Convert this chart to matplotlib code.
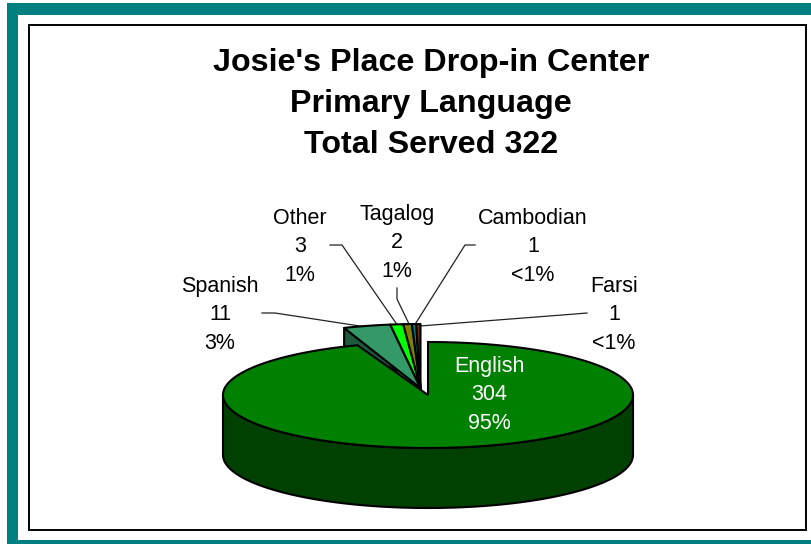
import numpy as np
import matplotlib
matplotlib.use("Agg")
import matplotlib.pyplot as plt
from matplotlib.patches import Polygon, Rectangle

plt.rcParams['font.family'] = ['Liberation Sans', 'DejaVu Sans']

title_lines = ["Josie's Place Drop-in Center", "Primary Language", "Total Served 322"]
categories = ["English", "Spanish", "Other", "Tagalog", "Cambodian", "Farsi"]
counts = [304, 11, 3, 2, 1, 1]
pct_labels = ["95%", "3%", "1%", "1%", "<1%", "<1%"]
top_colors = ["#008000", "#339966", "#00FF00", "#808000", "#008080", "#663300"]
wall_colors = ["#004000", "#1F5C3D", "#009900", "#4D4D00", "#004D4D", "#3D1F00"]
label_pos = [(489, 395), (220, 315), (300, 247), (397, 243), (533, 247), (614, 315)]
label_colors = ["white", "black", "black", "black", "black", "black"]
leader_start = [None, (262, 313), (330, 245), (397, 288), (475, 245), (587, 313)]
leader_elbow = [None, (275, 313), (342, 245), (397, 299), (465, 245), (575, 314)]
leader_end = [None, (366, 327), (398, 326), (410, 326), (414, 326), (420, 326)]

W, H = 811, 544
fig = plt.figure(figsize=(W / 100, H / 100), dpi=100)
ax = fig.add_axes([0, 0, 1, 1])
ax.set_xlim(0, W)
ax.set_ylim(H, 0)
ax.axis("off")

# page frame
TEAL = "#008080"
ax.add_patch(Rectangle((7, 3), W - 7, 12, fc=TEAL, ec="none"))
ax.add_patch(Rectangle((7, 3), 11, H - 3, fc=TEAL, ec="none"))
ax.add_patch(Rectangle((7, 540), W - 7, 4, fc=TEAL, ec="none"))
ax.add_patch(Rectangle((29, 25), 777, 505, fc="white", ec="black", lw=1.4))

# pie geometry
cx, cy, a, b, depth = 428, 395, 205, 53, 60
ex_cx, ex_cy, ex_a, ex_b, ex_depth = 420.5, 388, 222, 64, 40

angles = 360 * np.array(counts) / sum(counts)
ends = 90 - np.cumsum(angles)
starts = ends + angles


def rim(t0, t1, x0, y0, ra, rb, n=200):
    t = np.radians(np.linspace(t0, t1, n))
    return np.column_stack([x0 + ra * np.cos(t), y0 - rb * np.sin(t)])


# detached small slices
for i in range(1, len(counts)):
    arc = rim(starts[i], ends[i], ex_cx, ex_cy, ex_a, ex_b, 20)
    apex = np.array([[ex_cx, ex_cy]])
    face = np.vstack([apex, arc[:1], arc[:1] + [0, ex_depth], apex + [0, 12]])
    ax.add_patch(Polygon(face, closed=True, fc=wall_colors[i], ec="black", lw=1.5, joinstyle="round", zorder=3))
for i in range(1, len(counts)):
    arc = rim(starts[i], ends[i], ex_cx, ex_cy, ex_a, ex_b, 20)
    top = np.vstack([[ex_cx, ex_cy], arc])
    ax.add_patch(Polygon(top, closed=True, fc=top_colors[i], ec="black", lw=1.5, joinstyle="round", zorder=4))

# main slice: wall then top
front = rim(180, 360, cx, cy, a, b)
wall = np.vstack([front, front[::-1] + [0, depth]])
ax.add_patch(Polygon(wall, closed=True, fc=wall_colors[0], ec="black", lw=1.5, zorder=5))
arc = rim(90, ends[0], cx, cy, a, b, 500)
top = np.vstack([[cx, cy], arc])
ax.add_patch(Polygon(top, closed=True, fc=top_colors[0], ec="black", lw=1.5, joinstyle="miter", zorder=6))

# leader lines
for i in range(1, len(counts)):
    pts = np.array([leader_start[i], leader_elbow[i], leader_end[i]])
    ax.plot(pts[:, 0], pts[:, 1], color="#222222", lw=0.9, zorder=3.5)

# labels
for i, name in enumerate(categories):
    x, y = label_pos[i]
    ax.text(x, y, f"{name}\n{counts[i]}\n{pct_labels[i]}", ha="center", va="center",
            fontsize=15.5, color=label_colors[i], linespacing=1.47, zorder=8)

# title
ax.text(431, 104, "\n".join(title_lines), ha="center", va="center", fontsize=23.2,
        fontweight="bold", color="black", linespacing=1.46, zorder=8)

fig.savefig("out.png", dpi=100)
